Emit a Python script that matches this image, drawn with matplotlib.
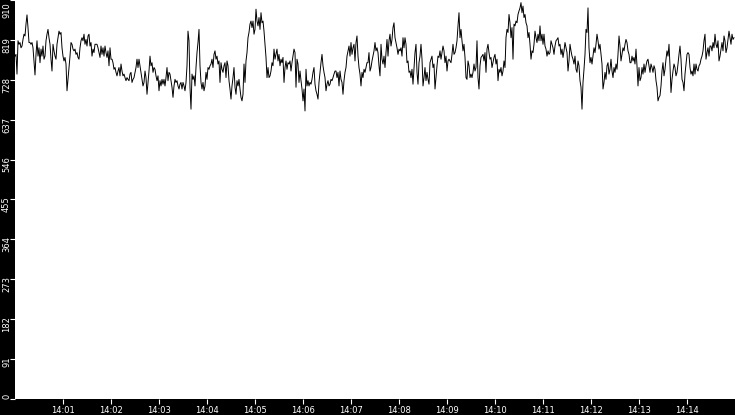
import matplotlib
matplotlib.use("Agg")
import matplotlib.pyplot as plt
import matplotlib.dates as mdates
import matplotlib.transforms as mtransforms
import numpy as np
import pandas as pd

# one sample every 1.25 s, starting 14:00:00
start = "2024-01-01 14:00:00"
step = "1250ms"

# 14:00:00 - 14:02:22
load_a = [782, 786, 741, 817, 809, 813, 801, 805, 820, 832,
          828, 855, 876, 847, 813, 813, 809, 813, 801, 771,
          739, 786, 817, 782, 801, 767, 798, 782, 805, 775,
          782, 817, 832, 843, 824, 809, 775, 748, 809, 794,
          782, 775, 809, 824, 839, 832, 836, 801, 782, 771,
          779, 764, 703, 729, 756, 782, 813, 809, 798, 794,
          798, 786, 790, 779, 775, 801, 817, 824, 817, 832,
          809, 820, 805, 828, 832, 805, 813, 782, 798, 790,
          809, 809, 809, 801, 790, 779, 805, 786, 801, 782,
          805, 790, 779, 794, 760, 801, 775, 775, 767, 752,
          756, 745, 737, 748, 756, 737, 764, 748, 737, 741,
          733, 726, 733, 729, 726]
# 14:02:23 - 14:05:00
load_b = [741, 745, 722, 729, 733, 745, 756, 775, 756, 775,
          760, 745, 729, 714, 722, 748, 733, 695, 722, 748,
          782, 760, 767, 745, 756, 752, 737, 726, 737, 703,
          726, 714, 729, 718, 729, 714, 733, 756, 726, 745,
          741, 726, 711, 688, 714, 729, 722, 726, 714, 707,
          718, 722, 707, 722, 714, 703, 722, 760, 839, 817,
          711, 661, 741, 729, 737, 714, 756, 790, 813, 843,
          760, 722, 707, 722, 703, 714, 745, 729, 756, 752,
          760, 764, 775, 756, 786, 794, 775, 782, 764, 771,
          722, 767, 752, 745, 760, 767, 733, 771, 760, 726,
          707, 684, 714, 733, 756, 711, 695, 726, 714, 729,
          707, 688, 680, 695, 764, 722, 771, 790, 824, 836,
          855, 862, 847, 862, 832, 843]
# 14:05:01 - 14:07:36
load_c = [889, 862, 851, 870, 843, 881, 858, 862, 839, 809,
          779, 733, 756, 733, 737, 748, 767, 760, 798, 775,
          786, 798, 771, 786, 760, 775, 767, 779, 722, 756,
          771, 752, 767, 764, 771, 748, 767, 782, 798, 790,
          711, 775, 764, 722, 748, 726, 707, 680, 707, 657,
          752, 714, 726, 714, 722, 718, 729, 745, 756, 718,
          703, 695, 684, 722, 745, 767, 786, 760, 745, 733,
          703, 718, 726, 714, 718, 729, 726, 733, 741, 748,
          748, 733, 745, 714, 748, 729, 722, 695, 726, 745,
          756, 782, 794, 805, 782, 813, 786, 801, 809, 771,
          813, 828, 782, 756, 741, 714, 745, 733, 752, 745,
          756, 767, 767, 790, 748, 756, 771, 782, 794, 813,
          794, 801, 790, 760, 737]
# 14:07:37 - 14:10:12
load_d = [809, 775, 764, 782, 756, 790, 820, 782, 817, 832,
          805, 820, 847, 858, 824, 813, 801, 786, 798, 794,
          801, 782, 824, 801, 824, 809, 767, 771, 745, 748,
          733, 752, 718, 756, 790, 809, 745, 718, 767, 782,
          809, 775, 714, 733, 756, 726, 745, 729, 718, 767,
          775, 782, 756, 764, 707, 733, 760, 782, 779, 794,
          775, 790, 805, 794, 767, 782, 748, 771, 775, 771,
          767, 786, 809, 786, 790, 801, 817, 851, 881, 824,
          843, 817, 794, 809, 779, 733, 729, 771, 760, 733,
          741, 733, 745, 764, 748, 756, 817, 733, 707, 760,
          779, 782, 786, 771, 790, 745, 798, 809, 790, 775,
          779, 756, 767, 779, 786, 764, 775, 726, 752, 745,
          756, 737, 748, 771, 756]
# 14:10:13 - 14:12:48
load_e = [824, 843, 836, 877, 858, 824, 847, 775, 855, 851,
          862, 858, 877, 885, 892, 904, 881, 896, 870, 877,
          858, 851, 824, 836, 809, 775, 794, 790, 809, 839,
          824, 813, 832, 817, 851, 817, 832, 809, 832, 805,
          798, 782, 794, 786, 790, 817, 809, 801, 786, 805,
          817, 820, 824, 805, 809, 786, 798, 779, 794, 813,
          801, 790, 748, 771, 809, 794, 782, 775, 764, 782,
          752, 745, 771, 760, 726, 711, 661, 722, 752, 786,
          843, 836, 892, 801, 767, 779, 764, 782, 801, 790,
          809, 832, 817, 798, 809, 786, 764, 707, 722, 745,
          729, 760, 767, 741, 752, 775, 748, 733, 756, 745,
          764, 752, 786, 828, 805, 771, 786, 801, 794, 809,
          820, 813, 794, 786, 767]
# 14:12:50 - 14:14:58
load_f = [767, 782, 771, 779, 764, 798, 760, 714, 756, 726,
          733, 756, 741, 764, 745, 760, 771, 775, 760, 745,
          764, 756, 745, 760, 752, 726, 711, 680, 688, 692,
          714, 748, 767, 737, 752, 775, 794, 782, 809, 760,
          699, 729, 748, 764, 756, 737, 745, 764, 786, 805,
          775, 729, 722, 703, 741, 764, 786, 790, 786, 756,
          741, 748, 737, 764, 741, 764, 752, 748, 760, 764,
          775, 782, 794, 817, 832, 775, 790, 801, 782, 805,
          805, 794, 813, 801, 832, 809, 801, 817, 771, 782,
          798, 813, 794, 828, 817, 790, 801, 820, 839, 824,
          809, 832, 820, 824]

yticks = [0, 91, 182, 273, 364, 455, 546, 637, 728, 819, 910]

load = load_a + load_b + load_c + load_d + load_e + load_f
times = pd.date_range(start, periods=len(load), freq=step)

fig = plt.figure(figsize=(7.35, 4.15), dpi=100, facecolor="black")
ax = fig.add_axes([15 / 735, 16 / 415, 720 / 735, 399 / 415])
ax.set_facecolor("white")

ax.plot(times, load, color="black", linewidth=0.7)

ax.set_xlim(pd.Timestamp("2024-01-01 14:00:00"), pd.Timestamp("2024-01-01 14:15:00"))
ax.set_ylim(0, 910)

ax.xaxis.set_major_locator(mdates.MinuteLocator(byminute=range(1, 15)))
ax.xaxis.set_major_formatter(mdates.DateFormatter("%H:%M"))
ax.set_yticks(yticks)
ax.set_yticklabels([])

for s in ax.spines.values():
    s.set_visible(False)

ax.tick_params(axis="both", colors="white", length=3.6, width=0.8,
               labelsize=6, pad=1.5, direction="out")

# y labels drawn by hand: rotated, sitting just below each tick
trans = mtransforms.blended_transform_factory(fig.transFigure, ax.transData)
for v in yticks:
    if v == 0:
        va, dy = "bottom", 0.0
    elif v == 910:
        va, dy = "top", -0.02
    else:
        va, dy = "top", 0.03
    off = mtransforms.ScaledTranslation(0, dy, fig.dpi_scale_trans)
    ax.text(6.5 / 735, v, str(v), transform=trans + off, rotation=90,
            ha="center", va=va, color="white", fontsize=6, clip_on=False)

fig.savefig("out.png", dpi=100, facecolor="black")
